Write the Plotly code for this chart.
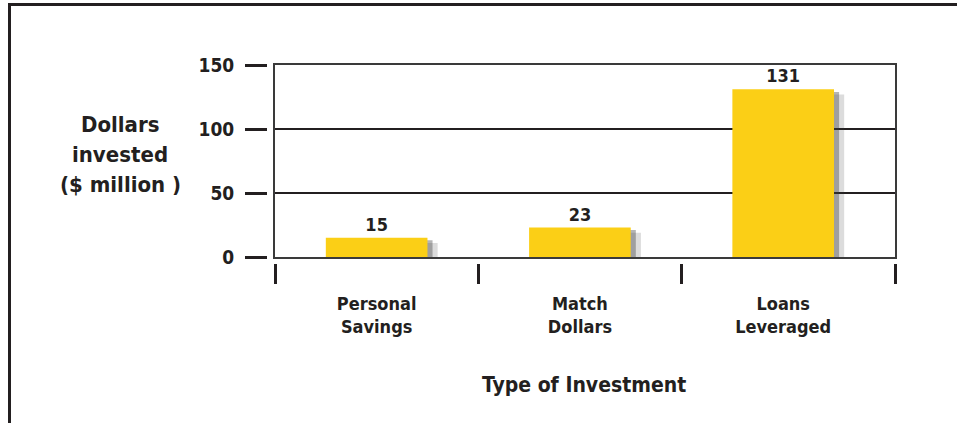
import plotly.graph_objects as go

categories = ["Personal<br>Savings", "Match<br>Dollars", "Loans<br>Leveraged"]
values = [15, 23, 131]
labels = ["15", "23", "131"]
y_ticks = [0, 50, 100, 150]
y_title_lines = ["Dollars", "invested", "($ million )"]
x_title = "Type of Investment"

INK = "#231f20"
YELLOW = "#fbcf16"
FONT = "DejaVu Sans Condensed, DejaVu Sans, Liberation Sans, sans-serif"

W, H = 957, 423
ML, MR, MT, MB = 230, 62, 65, 160
PW = W - ML - MR
PH = H - MT - MB


def px(page_x):
    return (page_x - ML) / PW


def py(page_y):
    return (H - MB - page_y) / PH


fig = go.Figure()

# soft shadows
fig.add_trace(go.Bar(x=categories, y=values, base=-4, width=0.5, offset=-0.2,
                     marker=dict(color="rgba(60,60,60,0.18)", line_width=0),
                     hoverinfo="skip", showlegend=False))
fig.add_trace(go.Bar(x=categories, y=values, base=-2, width=0.5, offset=-0.225,
                     marker=dict(color="rgba(60,60,60,0.38)", line_width=0),
                     hoverinfo="skip", showlegend=False))
# main bars
fig.add_trace(go.Bar(x=categories, y=values, width=0.5, offset=-0.25,
                     marker=dict(color=YELLOW, line_width=0),
                     text=labels, textposition="outside", cliponaxis=False,
                     textfont=dict(family=FONT, size=18, color=INK, weight="bold"),
                     showlegend=False))
# helper trace so the free tick axes are drawn
fig.add_trace(go.Scatter(x=[None], y=[None], xaxis="x2", yaxis="y2",
                         mode="markers", hoverinfo="skip", showlegend=False))

x_range = [-0.5, 2.55]
d0 = px(275)
ydom0 = 6 / PH

fig.update_layout(
    width=W, height=H,
    margin=dict(l=ML, r=MR, t=MT, b=MB, pad=0),
    paper_bgcolor="white", plot_bgcolor="white",
    barmode="overlay",
    font=dict(family=FONT, color=INK, size=18, weight="bold"),
    xaxis=dict(domain=[d0, 1], range=x_range, anchor="y",
               showline=True, mirror=True, linecolor="#3a3a3a", linewidth=2,
               ticks="", showgrid=False, zeroline=False,
               tickfont=dict(family=FONT, size=18, color=INK, weight="bold"),
               ticklabelstandoff=29),
    xaxis2=dict(overlaying="x", anchor="free", position=0, range=x_range,
                type="linear", tickmode="array", tickvals=[-0.5, 0.5, 1.5, 2.55],
                ticks="outside", ticklen=20, tickwidth=3, tickcolor=INK,
                showticklabels=False, showline=False, showgrid=False, zeroline=False),
    yaxis=dict(domain=[ydom0, 1], range=[0, 150], tickvals=y_ticks,
               showgrid=True, gridcolor=INK, gridwidth=2,
               showline=True, mirror=True, linecolor="#3a3a3a", linewidth=2,
               showticklabels=False, ticks="", zeroline=False),
    yaxis2=dict(overlaying="y", anchor="free", position=px(267), side="left",
                range=[0, 150], tickmode="array", tickvals=y_ticks,
                ticks="outside", ticklen=22, tickwidth=3, tickcolor=INK,
                ticklabelstandoff=7,
                tickfont=dict(family=FONT, size=19, color=INK, weight="bold"),
                showline=False, showgrid=False, zeroline=False),
)

# y title lines
for txt, yc in zip(y_title_lines, [124, 154, 184]):
    fig.add_annotation(text=txt, xref="paper", yref="paper",
                       x=px(120), y=py(yc),
                       xanchor="center", yanchor="middle", showarrow=False,
                       font=dict(family=FONT, size=22, color=INK, weight="bold"))

fig.add_annotation(text=x_title, xref="paper", yref="paper",
                   x=px(584), y=py(385),
                   xanchor="center", yanchor="middle", showarrow=False,
                   font=dict(family=FONT, size=21, color=INK, weight="bold"))

# outer frame (top and left)
fig.add_shape(type="path", xref="paper", yref="paper",
              path=f"M {px(9.5)} {py(430)} L {px(9.5)} {py(4.5)} L {px(965)} {py(4.5)}",
              line=dict(color=INK, width=3))

fig.write_html("out.html",
               config={"displayModeBar": False},
               post_script="document.body.style.margin='0';document.body.style.overflow='hidden';")
